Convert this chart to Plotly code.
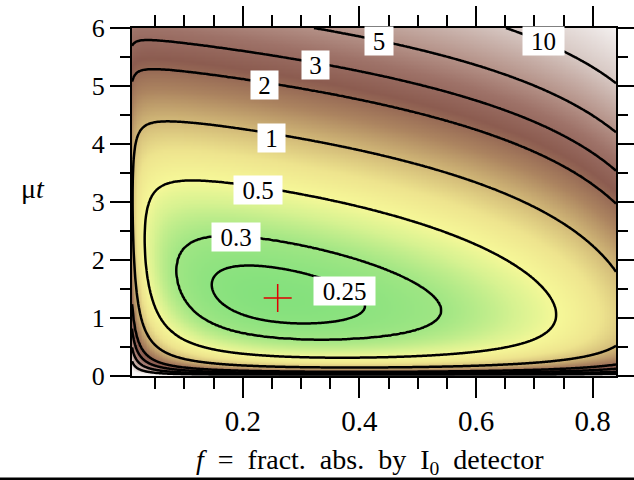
import numpy as np
import plotly.graph_objects as go

# ---------------- data / model ----------------
# noise figure as a function of f (fraction absorbed by I0) and mu*t
f_range = [0.01, 0.84]
mut_range = [0.0, 6.0]
I0_weight = 0.476      # relative weight of the I0 counting term
scale_K = 0.0409       # overall scale
power_m = 1.045        # exponent

levels = [0.25, 0.3, 0.5, 1, 2, 3, 5, 10]
label_text = ["0.25", "0.3", "0.5", "1", "2", "3", "5", "10"]
label_f = [0.375, 0.1877, 0.2254, 0.249, 0.2365, 0.3245, 0.433, 0.7155]
label_mut = [1.46, 2.405, 3.20, 4.11, 5.02, 5.36, 5.77, 5.77]
label_w = [61, 48, 48, 27, 27, 27, 28, 41]

x_tickvals = [0.2, 0.4, 0.6, 0.8]
x_ticktext = ["0.2", "0.4", "0.6", "0.8"]
y_tickvals = [0, 1, 2, 3, 4, 5, 6]
y_ticktext = ["0", "1", "2", "3", "4", "5", "6"]

# colour anchors (value -> rgb)
color_vals = [0.22, 0.3, 0.4, 0.5, 0.7, 1.0, 1.5, 2.3, 3.5, 5, 10, 25]
color_rgb = [(128, 224, 124), (160, 230, 132), (215, 242, 145), (246, 248, 152),
             (238, 228, 142), (210, 185, 120), (172, 132, 96), (140, 92, 80),
             (158, 114, 104), (180, 145, 135), (215, 200, 195), (248, 246, 246)]

# ---------------- grid ----------------
f = np.linspace(f_range[0], f_range[1], 300)
mut = np.concatenate([np.linspace(0.004, 0.6, 170), np.linspace(0.6, 6.0, 240)[1:]])
F, M = np.meshgrid(f, mut)
Z = scale_K * ((I0_weight / F + np.exp(M) / (1 - F)) / M) ** power_m
LZ = np.log10(Z)

# monotonic mapping of log z so that the chosen levels become integers
ll = np.log10(levels)
W = np.interp(LZ, ll, np.arange(len(levels)))
lo = LZ < ll[0]
W[lo] = (LZ[lo] - ll[0]) / (ll[1] - ll[0])
hi = LZ > ll[-1]
W[hi] = (len(levels) - 1) + (LZ[hi] - ll[-1]) / (ll[-1] - ll[-2])

imin = np.unravel_index(np.argmin(Z), Z.shape)
opt_f = [F[imin]]
opt_mut = [M[imin]]

lmin, lmax = np.log10(color_vals[0]), np.log10(color_vals[-1])
colorscale = [[(np.log10(v) - lmin) / (lmax - lmin), "rgb(%d,%d,%d)" % c]
              for v, c in zip(color_vals, color_rgb)]

FONT = "Liberation Serif"

fig = go.Figure()
fig.add_trace(go.Heatmap(x=f, y=mut, z=np.round(LZ, 4).tolist(), colorscale=colorscale,
                         zmin=lmin, zmax=lmax, showscale=False, hoverinfo="skip"))
fig.add_trace(go.Contour(x=f, y=mut, z=np.round(W, 4).tolist(),
                         contours=dict(start=0, end=len(levels) - 1, size=1, coloring="none"),
                         line=dict(color="black", width=2.5), showscale=False,
                         hoverinfo="skip"))
fig.add_trace(go.Scatter(x=opt_f, y=opt_mut, mode="markers",
                         marker=dict(symbol="cross-thin", size=20,
                                     line=dict(color="#e00000", width=1.5)),
                         hoverinfo="skip"))

for t, xf, ym, w in zip(label_text, label_f, label_mut, label_w):
    fig.add_annotation(x=xf, y=ym, xref="x", yref="y", text=t, showarrow=False,
                       xanchor="center", yanchor="middle",
                       bgcolor="white", width=w, height=28, borderpad=0,
                       font=dict(family=FONT, size=25, color="black"))

axis_common = dict(showline=True, linewidth=2, linecolor="black", mirror="allticks",
                   ticks="outside", ticklen=20, tickwidth=2, tickcolor="black",
                   showgrid=False, zeroline=False, automargin=False)

fig.update_xaxes(range=f_range, tickvals=x_tickvals, ticktext=x_ticktext,
                 tickfont=dict(family=FONT, size=29, color="black"),
                 ticklabelstandoff=-2,
                 minor=dict(ticks="outside", ticklen=11, tickwidth=2, tickcolor="black",
                            dtick=0.05, tick0=0, showgrid=False),
                 **axis_common)
fig.update_yaxes(range=mut_range, tickvals=y_tickvals, ticktext=y_ticktext,
                 tickfont=dict(family=FONT, size=26, color="black"),
                 ticklabelstandoff=0,
                 minor=dict(ticks="outside", ticklen=10, tickwidth=2, tickcolor="black",
                            dtick=0.5, tick0=0, showgrid=False),
                 **axis_common)

fig.add_annotation(x=(370 - 132) / 484, y=(376 - 461) / 348, xref="paper", yref="paper",
                   xanchor="center", yanchor="middle",
                   text="<i>f</i>&nbsp; =&nbsp; fract.&nbsp; abs.&nbsp; by&nbsp; I<sub>0</sub>&nbsp; detector",
                   showarrow=False, font=dict(family=FONT, size=28, color="black"))
fig.add_annotation(x=(33 - 132) / 484, y=(376 - 188) / 348, xref="paper", yref="paper",
                   xanchor="center", yanchor="middle",
                   text="\u03bc<i>t</i>", showarrow=False,
                   font=dict(family=FONT, size=28, color="black"))
fig.add_shape(type="line", xref="paper", yref="paper", x0=-132 / 484, x1=502 / 484,
              y0=-(479 - 376) / 348, y1=-(479 - 376) / 348, line=dict(color="black", width=3))

fig.update_layout(width=634, height=480, margin=dict(l=132, r=18, t=28, b=104),
                  plot_bgcolor="white", paper_bgcolor="white", showlegend=False)

fig.write_html("out.html", config={"displayModeBar": False},
               post_script="document.body.style.margin='0px';")
